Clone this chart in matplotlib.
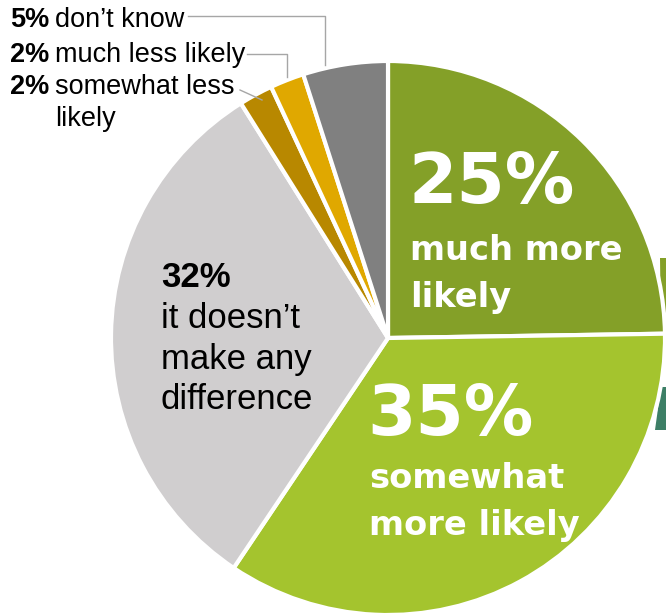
import matplotlib
matplotlib.use("Agg")
import matplotlib.pyplot as plt
from matplotlib.patches import Polygon

plt.rcParams['font.family'] = ['Liberation Sans', 'DejaVu Sans']

# answers clockwise from 12 o'clock
answers = ["much more\nlikely", "somewhat\nmore likely", "it doesn\u2019t\nmake any\ndifference",
           "somewhat less\nlikely", "much less likely", "don\u2019t know"]
shares = [25, 35, 32, 2, 2, 5]
colors = ["#84a028", "#a4c42e", "#d0cecf", "#b88800", "#e0a800", "#808080"]
explode = [0.018, 0, 0, 0, 0, 0]

W, H = 666, 615
fig = plt.figure(figsize=(W / 100, H / 100), dpi=100)
ax = fig.add_axes([0, 0, 1, 1])

# bits of the neighbouring graphic that peek in at the right edge
ax.add_patch(Polygon([(660, H - 258), (666, H - 258), (666, H - 330), (661, H - 330)],
                     closed=True, color="#84a028", lw=0))
ax.add_patch(Polygon([(661, H - 387), (666, H - 387), (666, H - 430), (655, H - 430)],
                     closed=True, color="#3d7f66", lw=0))

cx, cy, r = 388, 338, 277
ax.pie(shares, colors=colors, explode=explode, startangle=90, counterclock=False,
       center=(cx, H - cy), radius=r,
       wedgeprops=dict(edgecolor="white", linewidth=3))
ax.set_xlim(0, W)
ax.set_ylim(0, H)
ax.set_aspect('equal')
ax.axis('off')


def txt(x, y, s, **kw):
    ax.text(x, H - y, s, va='baseline', **kw)


white = dict(color='white', fontweight='bold', family=['DejaVu Sans'])

# 25% much more likely
txt(408, 203, f"{shares[0]}%", fontsize=50, **white)
for i, line in enumerate(answers[0].split("\n")):
    txt(410, 260 + 47 * i, line, fontsize=24.2, **white)

# 35% somewhat more likely
txt(367, 435, f"{shares[1]}%", fontsize=50, **white)
for i, line in enumerate(answers[1].split("\n")):
    txt(369, 488 + 47 * i, line, fontsize=24.2, **white)

# 32% no difference
txt(161, 287, f"{shares[2]}%", fontsize=25, fontweight='bold', color='black')
for i, line in enumerate(answers[2].split("\n")):
    txt(161, 328 + 40.5 * i, line, fontsize=25, color='black')

# small slices, labelled outside
small = [(5, 27), (4, 62), (3, 94)]
for idx, base in small:
    txt(49, base, f"{shares[idx]}%", fontsize=19.5, fontweight='bold', color='black', ha='right')
    for i, line in enumerate(answers[idx].split("\n")):
        txt(55, base + 32 * i, line, fontsize=19.5, color='black', ha='left')

# leader lines
lc = "#a6a6a6"
ax.plot([188, 325, 325], [H - 16, H - 16, H - 65], color=lc, lw=1)
ax.plot([247, 287, 287], [H - 54, H - 54, H - 77], color=lc, lw=1)
ax.plot([240, 262], [H - 90, H - 100], color=lc, lw=1)

fig.savefig("out.png", dpi=100)
